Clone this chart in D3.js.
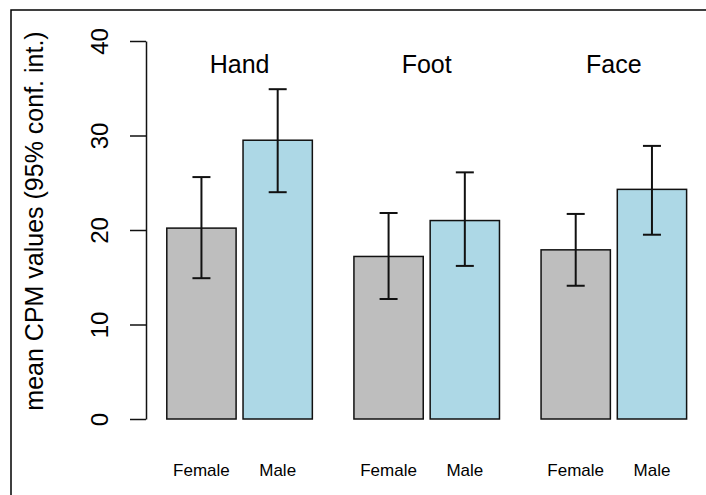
<!DOCTYPE html>
<html>
<head>
<meta charset="utf-8">
<script src="https://cdn.jsdelivr.net/npm/d3@7"></script>
<style>
  html, body { margin: 0; padding: 0; background: #fff; }
  svg { display: block; font-family: "Liberation Sans", Arial, sans-serif; }
</style>
</head>
<body>
<svg id="chart" width="706" height="495"></svg>
<script>
// Body regions and sexes
const regions = ["Hand", "Foot", "Face"];
const sexes = ["Female", "Male"];
const sexColors = ["#bebebe", "#add8e6"];

// Mean CPM per region, one array per sex
const femaleMeans = [20.2, 17.2, 17.9];
const maleMeans   = [29.5, 21.0, 24.3];

// 95% confidence interval bounds
const femaleLower = [14.9, 12.7, 14.1];
const femaleUpper = [25.6, 21.8, 21.7];
const maleLower   = [24.0, 16.2, 19.5];
const maleUpper   = [34.9, 26.1, 28.9];

const yTicks = [0, 10, 20, 30, 40];
const yLabel = "mean CPM values (95% conf. int.)";

// Combine into one row per bar
const bars = [];
regions.forEach((r, g) => {
  bars.push({ region: r, g, s: 0, sex: sexes[0], mean: femaleMeans[g], lo: femaleLower[g], hi: femaleUpper[g] });
  bars.push({ region: r, g, s: 1, sex: sexes[1], mean: maleMeans[g], lo: maleLower[g], hi: maleUpper[g] });
});

const svg = d3.select("#chart");

// Bar layout in bar-width units: width 1, 0.1 gap within a group, 0.6 between groups
const barW = 1, innerGap = 0.1, outerGap = 0.6;
const groupStep = 2 * barW + innerGap + outerGap;
const barLeft = d => outerGap + d.g * groupStep + d.s * (barW + innerGap);

const x = d3.scaleLinear().domain([0.3, 8.4]).range([146, 707.4]);
const y = d3.scaleLinear().domain([0, 40]).range([419, 41]);

// Figure frame
svg.append("rect")
  .attr("x", 11).attr("y", 10)
  .attr("width", 720).attr("height", 520)
  .attr("fill", "none").attr("stroke", "#000").attr("stroke-width", 1.5);

// Bars
svg.append("g").selectAll("rect")
  .data(bars).join("rect")
  .attr("x", d => x(barLeft(d)))
  .attr("y", d => y(d.mean))
  .attr("width", d => x(barLeft(d) + barW) - x(barLeft(d)))
  .attr("height", d => y(0) - y(d.mean))
  .attr("fill", d => sexColors[d.s])
  .attr("stroke", "#111").attr("stroke-width", 1.5);

// Error bars
const capHalf = 9;
const eb = svg.append("g").attr("stroke", "#111").attr("stroke-width", 2);
bars.forEach(d => {
  const cx = x(barLeft(d) + barW / 2);
  eb.append("line").attr("x1", cx).attr("x2", cx).attr("y1", y(d.lo)).attr("y2", y(d.hi));
  eb.append("line").attr("x1", cx - capHalf).attr("x2", cx + capHalf).attr("y1", y(d.lo)).attr("y2", y(d.lo));
  eb.append("line").attr("x1", cx - capHalf).attr("x2", cx + capHalf).attr("y1", y(d.hi)).attr("y2", y(d.hi));
});

// Y axis with rotated tick labels
const axis = svg.append("g").attr("transform", "translate(146,0)")
  .call(d3.axisLeft(y).tickValues(yTicks).tickSize(16).tickSizeOuter(0).tickPadding(0).tickFormat(d3.format("d")));
axis.select(".domain").attr("stroke", "#111").attr("stroke-width", 1.5);
axis.selectAll(".tick line").attr("stroke", "#111").attr("stroke-width", 1.5);
axis.selectAll(".tick text")
  .attr("x", null).attr("dy", null)
  .attr("transform", "translate(-38,0) rotate(-90)")
  .attr("text-anchor", "middle")
  .attr("font-size", 24)
  .attr("font-family", "Liberation Sans, Arial, sans-serif")
  .attr("fill", "#000");

// Y axis title
svg.append("text")
  .attr("transform", `translate(43,${(y(0) + y(40)) / 2 - 9}) rotate(-90)`)
  .attr("text-anchor", "middle")
  .attr("font-size", 25)
  .attr("fill", "#000")
  .text(yLabel);

// Region titles above each group
svg.append("g").selectAll("text")
  .data(regions).join("text")
  .attr("x", (r, g) => x(outerGap + g * groupStep + barW + innerGap / 2))
  .attr("y", 73)
  .attr("text-anchor", "middle")
  .attr("font-size", 25)
  .attr("fill", "#000")
  .text(r => r);

// Sex labels under each bar
svg.append("g").selectAll("text")
  .data(bars).join("text")
  .attr("x", d => x(barLeft(d) + barW / 2))
  .attr("y", 476)
  .attr("text-anchor", "middle")
  .attr("font-size", 17)
  .attr("fill", "#000")
  .text(d => d.sex);
</script>
</body>
</html>
